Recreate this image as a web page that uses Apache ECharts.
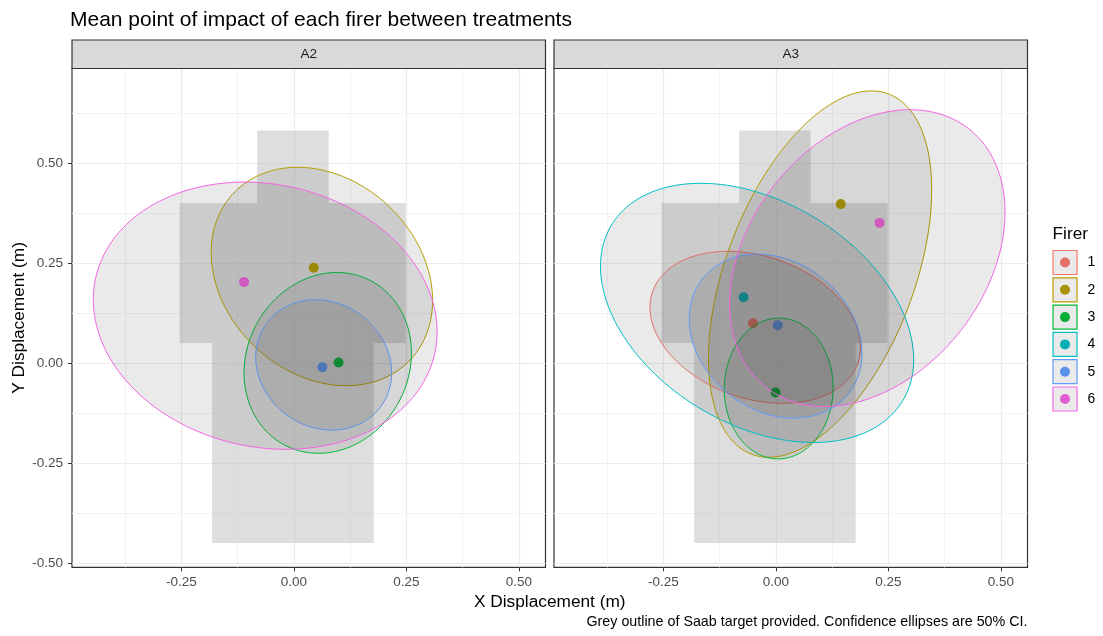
<!DOCTYPE html>
<html>
<head>
<meta charset="utf-8">
<title>Mean point of impact of each firer between treatments</title>
<script src="https://cdn.jsdelivr.net/npm/echarts@6/dist/echarts.min.js"></script>
<style>
  html, body { margin: 0; padding: 0; background: #ffffff; }
  #chart { width: 1103px; height: 636px; }
</style>
</head>
<body>
<div id="chart"></div>
<script>
// ---- data ----------------------------------------------------------
const firers = ['1', '2', '3', '4', '5', '6'];
const firerColors = ['#F8766D', '#B79F00', '#00BA38', '#00BFC4', '#619CFF', '#F564E3'];
const panels = ['A2', 'A3'];

const xTicks = [-0.25, 0, 0.25, 0.5];
const yTicks = [-0.5, -0.25, 0, 0.25, 0.5];
const xMinor = [-0.375, -0.125, 0.125, 0.375];
const yMinor = [-0.375, -0.125, 0.125, 0.375, 0.625];

// Saab target outline (metres)
const targetX = [-0.082, 0.077, 0.077, 0.248, 0.248, 0.177, 0.177, -0.182, -0.182, -0.254, -0.254, -0.082];
const targetY = [0.582, 0.582, 0.401, 0.401, 0.051, 0.051, -0.449, -0.449, 0.051, 0.051, 0.401, 0.401];

// mean point of impact: [firer, x, y]
const mpiA2 = [[2, 0.044, 0.239], [3, 0.099, 0.002], [5, 0.063, -0.010], [6, -0.111, 0.203]];
const mpiA3 = [[1, -0.051, 0.100], [2, 0.144, 0.398], [3, -0.001, -0.073],
               [4, -0.072, 0.165], [5, 0.004, 0.095], [6, 0.230, 0.351]];

// 50% confidence ellipses: [firer, centre x, centre y, half-width, half-height, correlation]
const ellA2 = [[2, 0.062, 0.217, 0.246, 0.273, -0.22],
               [3, 0.075, 0.001, 0.186, 0.226, 0.11],
               [5, 0.066, -0.004, 0.151, 0.163, -0.12],
               [6, -0.064, 0.119, 0.382, 0.334, -0.12]];
const ellA3 = [[1, -0.046, 0.090, 0.234, 0.190, -0.26],
               [2, 0.098, 0.223, 0.248, 0.458, 0.46],
               [3, 0.006, -0.063, 0.121, 0.176, 0.01],
               [4, -0.042, 0.126, 0.348, 0.324, -0.36],
               [5, -0.001, 0.068, 0.192, 0.205, -0.21],
               [6, 0.203, 0.263, 0.306, 0.371, 0.31]];

// ---- layout ----------------------------------------------------------
const FONT = "'Liberation Sans', Arial, sans-serif";
const X_MIN = -0.4933, X_MAX = 0.5589;
const Y_MIN = -0.510, Y_MAX = 0.737;
const PANEL_TOP = 68.5, PANEL_BOTTOM = 567.3;
const STRIP_TOP = 40;
const panelLeft = [72, 554];
const PANEL_W = 473.5;
const PANEL_H = PANEL_BOTTOM - PANEL_TOP;

const chart = echarts.init(document.getElementById('chart'), null, { renderer: 'canvas' });

const grids = panelLeft.map(l => ({
  left: l, top: PANEL_TOP, width: PANEL_W, height: PANEL_H,
  show: true, borderColor: '#333333', borderWidth: 1.2, backgroundColor: 'transparent'
}));

const xAxes = [], yAxes = [];
panelLeft.forEach((l, gi) => {
  xAxes.push({
    gridIndex: gi, type: 'value', min: X_MIN, max: X_MAX, position: 'bottom',
    axisLine: { show: false, onZero: false },
    axisTick: { show: true, customValues: xTicks, length: 4, lineStyle: { color: '#333333', width: 1 } },
    axisLabel: { customValues: xTicks, formatter: v => v.toFixed(2), color: '#4D4D4D',
                 fontSize: 13.5, fontFamily: FONT, margin: 8 },
    splitLine: { show: true, lineStyle: { color: '#EBEBEB', width: 1.2 } }
  });
  yAxes.push({
    gridIndex: gi, type: 'value', min: Y_MIN, max: Y_MAX, position: 'left',
    axisLine: { show: false, onZero: false },
    axisTick: { show: gi === 0, customValues: yTicks, length: 4, lineStyle: { color: '#333333', width: 1 } },
    axisLabel: { show: gi === 0, customValues: yTicks, formatter: v => v.toFixed(2), color: '#4D4D4D',
                 fontSize: 13.5, fontFamily: FONT, margin: 9 },
    splitLine: { show: true, lineStyle: { color: '#EBEBEB', width: 1.2 } }
  });
});
// minor grid lines on companion axes
panelLeft.forEach((l, gi) => {
  xAxes.push({
    gridIndex: gi, type: 'value', min: X_MIN, max: X_MAX, position: 'bottom',
    axisLine: { show: false, onZero: false }, axisLabel: { show: false },
    axisTick: { show: false, customValues: xMinor },
    splitLine: { show: true, lineStyle: { color: '#F3F3F3', width: 1 } }
  });
  yAxes.push({
    gridIndex: gi, type: 'value', min: Y_MIN, max: Y_MAX, position: 'left',
    axisLine: { show: false, onZero: false }, axisLabel: { show: false },
    axisTick: { show: false, customValues: yMinor },
    splitLine: { show: true, lineStyle: { color: '#F3F3F3', width: 1 } }
  });
});

function renderTarget(params, api) {
  const pts = targetX.map((x, i) => api.coord([x, targetY[i]]));
  return { type: 'polygon', shape: { points: pts }, style: { fill: 'rgba(190,190,190,0.5)' } };
}

function renderEllipse(params, api) {
  const f = api.value(0);
  const cx = api.value(1), cy = api.value(2);
  const sx = api.value(3), sy = api.value(4), r = api.value(5);
  const k = Math.sqrt(1 - r * r);
  const pts = [];
  const n = 160;
  for (let i = 0; i < n; i++) {
    const t = 2 * Math.PI * i / n;
    pts.push(api.coord([cx + sx * Math.cos(t), cy + sy * (r * Math.cos(t) + k * Math.sin(t))]));
  }
  return {
    type: 'polygon', shape: { points: pts },
    style: { fill: 'rgba(51,51,51,0.1)', stroke: firerColors[f - 1], lineWidth: 1 }
  };
}

const mpi = [mpiA2, mpiA3];
const ell = [ellA2, ellA3];
const series = [];
panels.forEach((p, gi) => {
  series.push({
    name: p + ' target', type: 'custom', xAxisIndex: gi, yAxisIndex: gi, z: 2,
    renderItem: renderTarget, data: [[0, 0]], silent: true
  });
  series.push({
    name: p + ' MPI', type: 'scatter', xAxisIndex: gi, yAxisIndex: gi, z: 3,
    symbol: 'circle', symbolSize: 10,
    data: mpi[gi].map(d => [d[1], d[2], d[0]]),
    itemStyle: { color: prm => firerColors[prm.value[2] - 1], opacity: 1 },
    silent: true
  });
  series.push({
    name: p + ' ellipses', type: 'custom', xAxisIndex: gi, yAxisIndex: gi, z: 4,
    renderItem: renderEllipse, encode: { x: 1, y: 2 },
    data: ell[gi], silent: true
  });
});

// ---- text, strips and legend ----------------------------------------
function label(text, x, y, size, align, extra) {
  return Object.assign({
    type: 'text', silent: true, x: x, y: y, z: 11,
    style: { text: text, fontSize: size, fontFamily: FONT, fill: '#000000',
             align: align, verticalAlign: 'middle', textAlign: align, textVerticalAlign: 'middle' }
  }, extra || {});
}

const graphics = [];
graphics.push(label('Mean point of impact of each firer between treatments', 70, 20, 21, 'left'));
panels.forEach((p, gi) => {
  graphics.push({
    type: 'rect', silent: true, z: 10,
    shape: { x: panelLeft[gi], y: STRIP_TOP, width: PANEL_W, height: PANEL_TOP - STRIP_TOP },
    style: { fill: '#D9D9D9', stroke: '#333333', lineWidth: 1.2 }
  });
  const t = label(p, panelLeft[gi] + PANEL_W / 2, (STRIP_TOP + PANEL_TOP) / 2, 13.5, 'center');
  t.style.fill = '#1A1A1A';
  graphics.push(t);
});
graphics.push(label('X Displacement (m)', (panelLeft[0] + panelLeft[1] + PANEL_W) / 2, 602, 17.3, 'center'));
graphics.push(label('Y Displacement (m)', 19, (PANEL_TOP + PANEL_BOTTOM) / 2, 17.3, 'center',
                    { rotation: Math.PI / 2 }));
graphics.push(label('Grey outline of Saab target provided. Confidence ellipses are 50% CI.',
                    panelLeft[1] + PANEL_W, 622, 14.3, 'right'));

// legend
const LEG_X = 1052.5, LEG_Y = 250, KEY = 25, PITCH = 27.3;
graphics.push(label('Firer', LEG_X, 234, 17.3, 'left'));
firers.forEach((f, i) => {
  const y0 = LEG_Y + PITCH * i;
  graphics.push({ type: 'rect', silent: true, shape: { x: LEG_X, y: y0, width: KEY, height: KEY },
                  style: { fill: '#FFFFFF' } });
  graphics.push({ type: 'circle', silent: true, shape: { cx: LEG_X + KEY / 2, cy: y0 + KEY / 2, r: 5 },
                  style: { fill: firerColors[i] } });
  graphics.push({ type: 'rect', silent: true, shape: { x: LEG_X + 0.5, y: y0 + 0.5, width: KEY - 1, height: KEY - 1 },
                  style: { fill: 'rgba(51,51,51,0.1)', stroke: firerColors[i], lineWidth: 1.2 } });
  graphics.push(label(f, LEG_X + KEY + 10, y0 + KEY / 2, 14, 'left'));
});

chart.setOption({
  animation: false,
  backgroundColor: '#ffffff',
  grid: grids,
  xAxis: xAxes,
  yAxis: yAxes,
  series: series,
  graphic: { elements: graphics }
});
</script>
</body>
</html>
